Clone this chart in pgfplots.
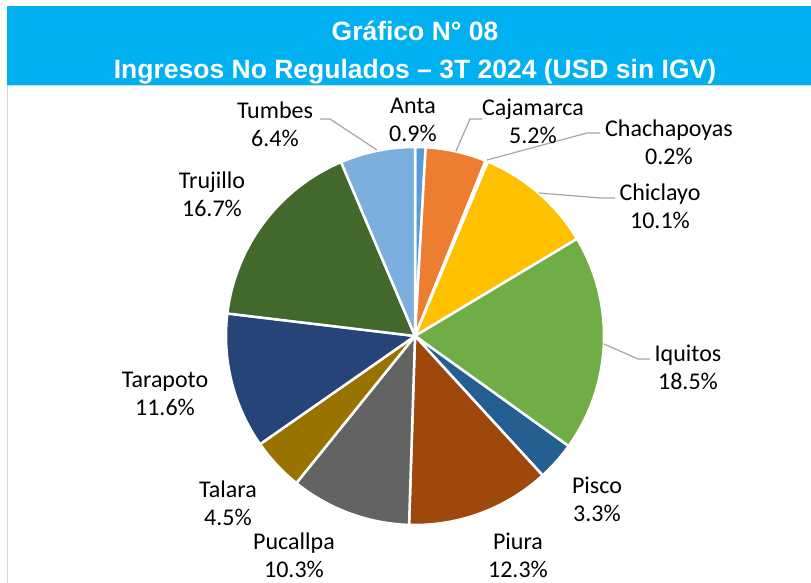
\documentclass[border=0pt]{standalone}
\usepackage{fontspec}
\setmainfont{Carlito}
\newfontfamily\arialb{Liberation Sans}[BoldFont={* Bold}]
\usepackage{pgfplots}
\pgfplotsset{compat=1.18}
\usepgfplotslibrary{polar}

\definecolor{titleblue}{HTML}{00B0F0}
\definecolor{leader}{HTML}{A6A6A6}
\definecolor{anta}{HTML}{5B9BD5}
\definecolor{cajamarca}{HTML}{ED7D31}
\definecolor{chachapoyas}{HTML}{A5A5A5}
\definecolor{chiclayo}{HTML}{FFC000}
\definecolor{iquitos}{HTML}{70AD47}
\definecolor{pisco}{HTML}{255E91}
\definecolor{piura}{HTML}{9E480E}
\definecolor{pucallpa}{HTML}{636363}
\definecolor{talara}{HTML}{997300}
\definecolor{tarapoto}{HTML}{264478}
\definecolor{trujillo}{HTML}{43682B}
\definecolor{tumbes}{HTML}{7CAFDD}

% #1 = cumulative share before the slice (%), #2 = share (%), #3 = colour
\newcommand{\slice}[3]{%
  \addplot[fill=#3, draw=white, line width=2.5pt, line join=round,
    domain={90-3.6*(#1+#2)}:{90-3.6*#1}, samples=60] {1} -- (axis cs:0,0) -- cycle;
}

\begin{document}
\begin{tikzpicture}[x=1pt,y=1pt]
\path[fill=white, use as bounding box] (0,0) rectangle (811,583);
\fill[titleblue] (7,497) rectangle (811,577);
\draw[gray!30, line width=1pt] (7,0) -- (7,497) -- (811,497);
\node[font=\arialb\bfseries\fontsize{26.5}{30}\selectfont, text=white] at (415,552) {Gráfico N° 08};
\node[font=\arialb\bfseries\fontsize{26.5}{30}\selectfont, text=white] at (415,511) {Ingresos No Regulados – 3T 2024 (USD sin IGV)};

\begin{polaraxis}[
  width=378pt, height=378pt, scale only axis,
  ymin=0, ymax=1, xmin=0, xmax=360,
  hide axis, clip=false,
  at={(415pt,247pt)}, anchor=center,
]
\slice{0}{0.9}{anta}
\slice{0.9}{5.2}{cajamarca}
\slice{6.1}{0.2}{chachapoyas}
\slice{6.3}{10.1}{chiclayo}
\slice{16.4}{18.5}{iquitos}
\slice{34.9}{3.3}{pisco}
\slice{38.2}{12.3}{piura}
\slice{50.5}{10.3}{pucallpa}
\slice{60.8}{4.5}{talara}
\slice{65.3}{11.6}{tarapoto}
\slice{76.9}{16.7}{trujillo}
\slice{93.6}{6.4}{tumbes}
\end{polaraxis}

\begin{scope}[leader, line width=1.2pt]
\draw (320,464) -- (330,464) -- (377,433);
\draw (482,464) -- (470,464) -- (456,432);
\draw (600,450) -- (587,450) -- (487,423);
\draw (539,390) -- (600,385) -- (615,385);
\draw (604,239) -- (638,224) -- (650,224);
\end{scope}

\tikzset{lab/.style={align=center, font=\fontsize{24}{28}\selectfont, text=black}}
\node[lab] at (275,459) {Tumbes\\6.4\%};
\node[lab] at (413,463) {Anta\\0.9\%};
\node[lab] at (533,462) {Cajamarca\\5.2\%};
\node[lab] at (669,441) {Chachapoyas\\0.2\%};
\node[lab] at (660,377) {Chiclayo\\10.1\%};
\node[lab] at (688,216) {Iquitos\\18.5\%};
\node[lab] at (597,84) {Pisco\\3.3\%};
\node[lab] at (518,28) {Piura\\12.3\%};
\node[lab] at (294,28) {Pucallpa\\10.3\%};
\node[lab] at (228,80) {Talara\\4.5\%};
\node[lab] at (165,189) {Tarapoto\\11.6\%};
\node[lab] at (212,389) {Trujillo\\16.7\%};
\end{tikzpicture}
\end{document}
